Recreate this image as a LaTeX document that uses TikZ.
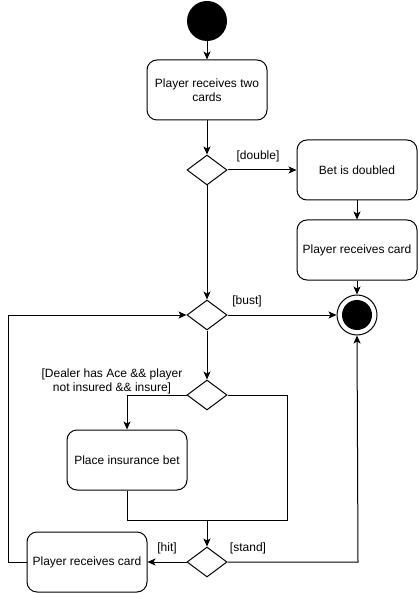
\documentclass[tikz,border=0pt]{standalone}
\usepackage{fontspec}
\setmainfont{Liberation Sans}
\usetikzlibrary{arrows.meta,shapes.geometric}
\begin{document}
\begin{tikzpicture}[x=1pt,y=-1pt, line width=1pt, font=\fontsize{12}{14}\selectfont,
 act/.style={draw, rounded corners=10pt, minimum width=120pt, minimum height=60pt, align=center, inner sep=2pt},
 dec/.style={draw, diamond, minimum width=40pt, minimum height=30pt, inner sep=0pt},
 arr/.style={-{Stealth[length=8pt,width=7pt,inset=2pt]}},
 lbl/.style={inner sep=0pt, align=center}]
\useasboundingbox (0,0) rectangle (418,593);
\node[circle, fill=black, minimum size=40pt, inner sep=0pt] (start) at (207,21) {};
\node[act] (b1) at (207,90) {Player receives two\\cards};
\node[dec] (d1) at (207,170) {};
\node[act] (b2) at (357,170) {Bet is doubled};
\node[act] (b3) at (357,250) {Player receives card};
\node[circle, draw, minimum size=40pt, inner sep=0pt] (end) at (357,315) {};
\node[circle, fill=black, minimum size=30pt, inner sep=0pt] (endin) at (357,315) {};
\node[dec] (d2) at (207,315) {};
\node[dec] (d3) at (207,395) {};
\node[act] (b4) at (127,460) {Place insurance bet};
\node[dec] (d4) at (207,562) {};
\node[act] (b5) at (87,562) {Player receives card};
\coordinate (j) at (207,520);
\coordinate (jr) at (287,520);
\coordinate (cr) at (287,395);
\coordinate (jl) at (127,520);
\coordinate (sr) at (358,562);
\coordinate (ll) at (8,562);
\coordinate (lt) at (8,315);
\node[lbl] (ldouble) at (258,156) {[double]};
\node[lbl] (lbust) at (247,301) {[bust]};
\node[lbl] (lace) at (112,381) {[Dealer has Ace \&\& player\\not insured \&\& insure]};
\node[lbl] (lhit) at (167,548) {[hit]};
\node[lbl] (lstand) at (248,548) {[stand]};
\draw[arr] (start) -- (b1);
\draw[arr] (b1) -- (d1);
\draw[arr] (d1.east) -- (b2.west);
\draw[arr] (b2) -- (b3);
\draw[arr] (b3) -- (end);
\draw[arr] (d1.south) -- (d2.north);
\draw[arr] (d2.east) -- (end.west);
\draw[arr] (d2.south) -- (d3.north);
\draw[arr] (d3.west) -| (b4.north);
\draw (d3.east) -- (cr) -- (jr) -- (j);
\draw (b4.south) -- (jl) -- (j);
\draw[arr] (j) -- (d4.north);
\draw[arr] (d4.west) -- (b5.east);
\draw[arr] (d4.east) -- (sr) -- (end.south);
\draw[arr] (b5.west) -- (ll) -- (lt) -- (d2.west);
\end{tikzpicture}
\end{document}
